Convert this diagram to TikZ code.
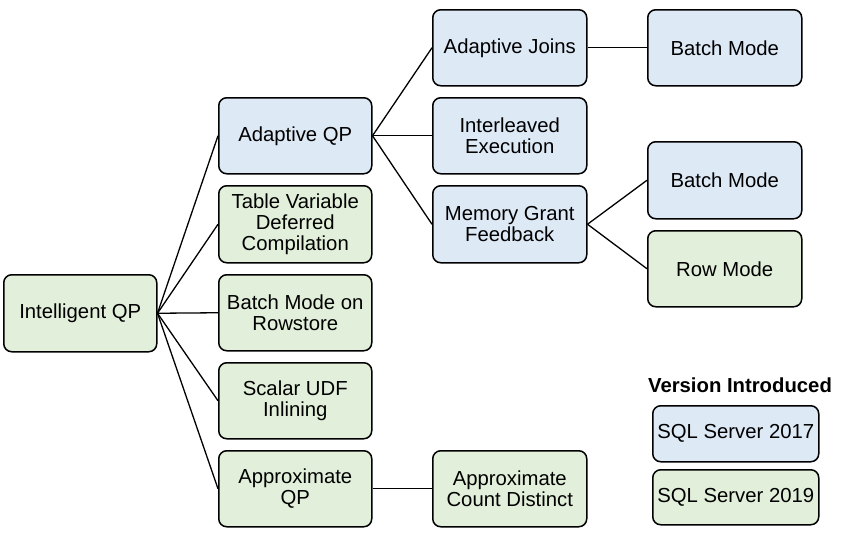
\documentclass[tikz,border=0pt]{standalone}
\usepackage{fontspec}
\setmainfont{Liberation Sans}
\definecolor{bluefill}{RGB}{222,233,246}
\definecolor{greenfill}{RGB}{226,239,218}
\begin{document}
\begin{tikzpicture}[x=1pt,y=-1pt,
  box/.style={draw=black,line width=1.5pt,rounded corners=8pt,align=center,
    font=\fontsize{20.3}{21}\selectfont,inner sep=0pt,anchor=north west},
  bluebox/.style={box,fill=bluefill},
  greenbox/.style={box,fill=greenfill},
  link/.style={line width=1.3pt,black}]
\useasboundingbox (0,0) rectangle (843,533);
\node[greenbox,minimum width=153pt,minimum height=77pt] (iqp) at (3,274) {Intelligent QP};
\node[bluebox,minimum width=153pt,minimum height=76pt] (aqp) at (218,97) {Adaptive QP};
\node[greenbox,minimum width=153pt,minimum height=77pt] (tvd) at (218,185) {Table Variable\\Deferred\\Compilation};
\node[greenbox,minimum width=153pt,minimum height=76pt] (bmr) at (218,274) {Batch Mode on\\Rowstore};
\node[greenbox,minimum width=153pt,minimum height=76pt] (udf) at (218,362) {Scalar UDF\\Inlining};
\node[greenbox,minimum width=153pt,minimum height=76pt] (apq) at (218,450) {Approximate\\QP};
\node[bluebox,minimum width=154pt,minimum height=76pt] (aj) at (432,9) {Adaptive Joins};
\node[bluebox,minimum width=154pt,minimum height=76pt] (ie) at (432,97) {Interleaved\\Execution};
\node[bluebox,minimum width=154pt,minimum height=77pt] (mgf) at (432,185) {Memory Grant\\Feedback};
\node[greenbox,minimum width=154pt,minimum height=76pt] (acd) at (432,450) {Approximate\\Count Distinct};
\node[bluebox,minimum width=154pt,minimum height=76pt] (bm1) at (647,9) {Batch Mode};
\node[bluebox,minimum width=154pt,minimum height=77pt] (bm2) at (647,141) {Batch Mode};
\node[greenbox,minimum width=154pt,minimum height=76pt] (rm) at (647,230) {Row Mode};
\node[font=\fontsize{20.3}{21}\selectfont\bfseries,inner sep=0pt] (legt) at (740,385) {Version Introduced};
\node[bluebox,minimum width=166pt,minimum height=56pt] (l17) at (652,405) {SQL Server 2017};
\node[greenbox,minimum width=166pt,minimum height=55pt] (l19) at (652,469) {SQL Server 2019};
\foreach \c in {aqp,tvd,bmr,udf,apq} \draw[link] (iqp.east) -- (\c.west);
\foreach \c in {aj,ie,mgf} \draw[link] (aqp.east) -- (\c.west);
\draw[link] (aj.east) -- (bm1.west);
\draw[link] (mgf.east) -- (bm2.west);
\draw[link] (mgf.east) -- (rm.west);
\draw[link] (apq.east) -- (acd.west);
\end{tikzpicture}
\end{document}
